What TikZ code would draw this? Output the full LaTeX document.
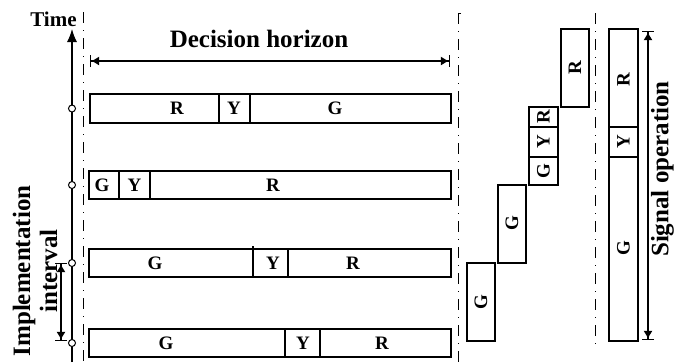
\documentclass[tikz,border=0pt]{standalone}
\usepackage{fontspec}
\setmainfont{Liberation Serif}
\usetikzlibrary{arrows.meta}
\begin{document}
\begin{tikzpicture}[x=1pt,y=-1pt,
  seg/.style={draw, line width=1.1pt},
  lab/.style={font=\fontsize{19}{21}\selectfont\bfseries, inner sep=0pt},
  vlab/.style={lab, rotate=90},
  big/.style={font=\fontsize{25}{27}\selectfont\bfseries, inner sep=0pt},
  dashdot/.style={line width=0.9pt, dash pattern=on 11pt off 7pt on 1pt off 7pt},
  tick/.style={circle, draw, fill=white, line width=1pt, minimum size=7pt, inner sep=0pt},
  span/.style={line width=1.1pt,
    {Bar[width=12pt]Latex[length=8pt,width=9pt]}-{Latex[length=8pt,width=9pt]Bar[width=12pt]}}
]
\useasboundingbox (0,0) rectangle (675,362);

% separating dash-dot lines
\coordinate (s1t) at (83,12);  \coordinate (s1b) at (83,362);
\coordinate (s2t) at (458,13); \coordinate (s2b) at (458,362);
\coordinate (s3t) at (595,13); \coordinate (s3b) at (595,345);
\draw[dashdot] (s1t) -- (s1b);
\draw[dashdot] (s2t) -- (s2b);
\draw[line width=0.9pt] (461,13.5) -- (458,13.5) -- (458,17);
\draw[dashdot] (s3t) -- (s3b);

% time axis
\coordinate (tb) at (72,362);
\coordinate (tt) at (72,29);
\draw[line width=1.1pt, -{Latex[length=13pt,width=10pt]}] (tb) -- (tt);
\node[big, font=\fontsize{21}{23}\selectfont\bfseries, anchor=base] (time) at (53.5,26) {Time};

% decision horizon
\coordinate (dl) at (90,61);
\coordinate (dr) at (450,61);
\draw[span] (dl) -- (dr);
\node[big, anchor=base] (dh) at (259,47) {Decision horizon};

% phase plans over the horizon
% row 1
\draw[seg] (90,94) rectangle (451,123);
\draw[seg] (219,94) -- (219,123) (250,94) -- (250,123);
\node[lab] (r1a) at (177,108.5) {R};
\node[lab] (r1b) at (234,108.5) {Y};
\node[lab] (r1c) at (335,108.5) {G};
% row 2
\draw[seg] (89,171) rectangle (451,199);
\draw[seg] (119,171) -- (119,199) (150,171) -- (150,199);
\node[lab] (r2a) at (102,185) {G};
\node[lab] (r2b) at (134.5,185) {Y};
\node[lab] (r2c) at (273,185) {R};
% row 3
\draw[seg] (89,249) rectangle (451,277);
\draw[seg] (253,246) -- (253,277) (288,249) -- (288,277);
\node[lab] (r3a) at (155,263) {G};
\node[lab] (r3b) at (273,263) {Y};
\node[lab] (r3c) at (353,263) {R};
% row 4
\draw[seg] (89,329) rectangle (451,357);
\draw[seg] (285,329) -- (285,357) (320,329) -- (320,357);
\node[lab] (r4a) at (166,343) {G};
\node[lab] (r4b) at (303,343) {Y};
\node[lab] (r4c) at (382,343) {R};

% decision instants on the time axis
\node[tick] (k1) at (72,108.5) {};
\node[tick] (k2) at (72,185) {};
\node[tick] (k3) at (72,263) {};
\node[tick] (k4) at (72,343) {};

% implementation interval
\coordinate (it) at (61,263);
\coordinate (ib) at (61,341);
\draw[span] (it) -- (ib);
\node[big, rotate=90, align=center] (impl) at (35,271) {Implementation\\interval};

% implemented stages
\draw[seg] (467,263) rectangle (495,341);
\node[vlab] (v1) at (481,302) {G};
\draw[seg] (498,185) rectangle (526,263);
\node[vlab] (v2) at (512,223) {G};
\draw[seg] (529,107) rectangle (558,185);
\draw[seg] (529,127) -- (558,127) (529,157) -- (558,157);
\node[vlab] (v3a) at (543.5,171) {G};
\node[vlab] (v3b) at (543.5,142) {Y};
\node[vlab] (v3c) at (543.5,117) {R};
\draw[seg] (561,29) rectangle (589,107);
\node[vlab] (v4) at (575,68) {R};

% resulting signal operation
\draw[seg] (609,29) rectangle (638,341);
\draw[seg] (609,127) -- (638,127) (609,157) -- (638,157);
\node[vlab] (o1) at (623.5,80) {R};
\node[vlab] (o2) at (623.5,142) {Y};
\node[vlab] (o3) at (623.5,248) {G};
\coordinate (ot) at (648,31);
\coordinate (ob) at (648,340);
\draw[span] (ot) -- (ob);
\node[big, rotate=90] (sig) at (662.5,169) {Signal operation};
\end{tikzpicture}
\end{document}
